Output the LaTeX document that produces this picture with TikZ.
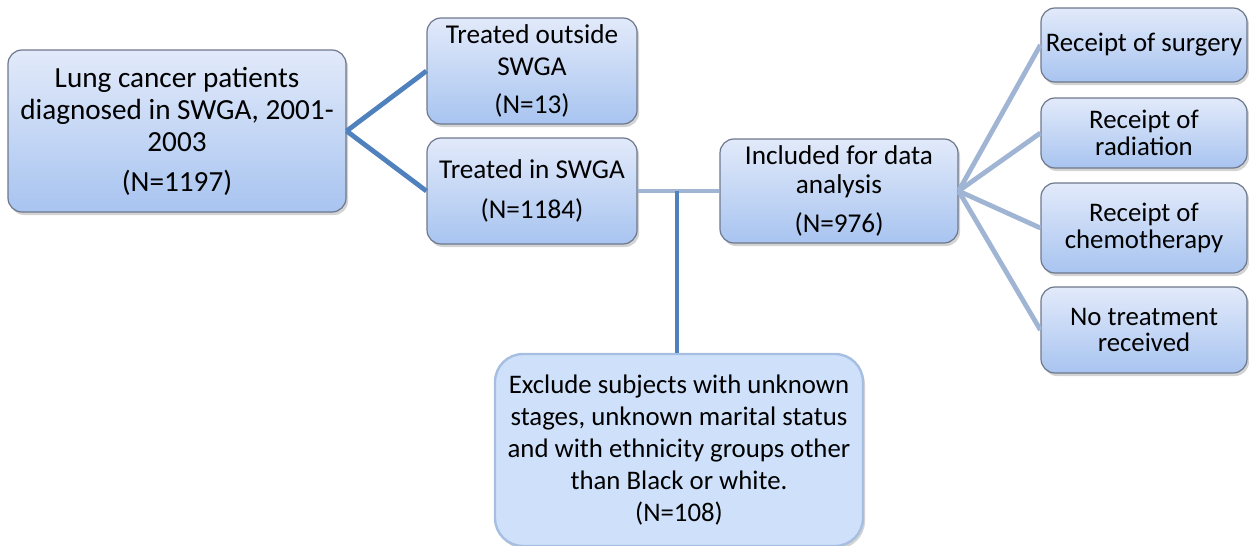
\documentclass[tikz,border=0pt]{standalone}
\usepackage{fontspec}
\setmainfont{Carlito}
\usetikzlibrary{shadows}
\definecolor{lnDark}{RGB}{79,129,189}
\definecolor{lnLight}{RGB}{160,180,212}
\definecolor{bxTop}{RGB}{226,234,250}
\definecolor{bxBot}{RGB}{168,196,240}
\definecolor{bxEdge}{RGB}{110,120,140}
\tikzset{
  x=0.5pt,y=-0.5pt,
  bx/.style={rectangle,rounded corners=7pt,draw=bxEdge,line width=0.6pt,
    top color=bxTop,bottom color=bxBot,align=center,inner sep=1pt,
    drop shadow={shadow xshift=1pt,shadow yshift=-1.5pt,opacity=0.35},
    font=\fontsize{13.6}{15.8}\selectfont},
  sbx/.style={bx,font=\fontsize{13.4}{13.2}\selectfont},
  xbx/.style={rectangle,rounded corners=14pt,draw={rgb,255:red,165;green,190;blue,225},
    line width=1.2pt,fill={rgb,255:red,207;green,225;blue,250},align=center,inner sep=1pt,
    drop shadow={shadow xshift=1pt,shadow yshift=-1.5pt,opacity=0.35},
    font=\fontsize{13.4}{16}\selectfont},
  dk/.style={draw=lnDark,line width=2.4pt},
  lt/.style={draw=lnLight,line width=2.4pt},
}
\begin{document}
\begin{tikzpicture}
\useasboundingbox (0,0) rectangle (1249,546);
% first column
\node[bx,minimum width=169pt,minimum height=81pt,font=\fontsize{14.6}{16}\selectfont] (lung) at (177,131)
  {Lung cancer patients\\diagnosed in SWGA, 2001-\\2003\\[4pt](N=1197)};
\node[bx,minimum width=105pt,minimum height=53pt] (outside) at (532,71)
  {Treated outside\\SWGA\\[3pt](N=13)};
\node[bx,minimum width=105pt,minimum height=53pt] (inswga) at (532,191)
  {Treated in SWGA\\[4pt](N=1184)};
\node[bx,minimum width=119pt,minimum height=52pt] (incl) at (839,191)
  {Included for data\\[-1.5pt]analysis\\[4pt](N=976)};
% treatment boxes
\node[sbx,minimum width=103pt,minimum height=37pt] (surg) at (1144,45) {Receipt of surgery};
\node[sbx,minimum width=103pt,minimum height=35pt] (rad) at (1144,133) {Receipt of\\radiation};
\node[sbx,minimum width=103pt,minimum height=45pt] (chemo) at (1144,228) {Receipt of\\chemotherapy};
\node[sbx,minimum width=103pt,minimum height=43pt] (none) at (1144,330) {No treatment\\received};
% excluded
\node[xbx,minimum width=184pt,minimum height=96pt] (excl) at (679,450)
  {Exclude subjects with unknown\\stages, unknown marital status\\and with ethnicity groups other\\than Black or white.\\(N=108)};
\coordinate (j) at (677,191);
\draw[dk] (lung.east) -- (outside.west);
\draw[dk] (lung.east) -- (inswga.west);
\draw[lt] (inswga.east) -- (incl.west);
\draw[dk] (j) -- (j |- excl.north);
\foreach \t in {surg,rad,chemo,none}
  \draw[lt] (incl.east) -- (\t.west);
\end{tikzpicture}
\end{document}
